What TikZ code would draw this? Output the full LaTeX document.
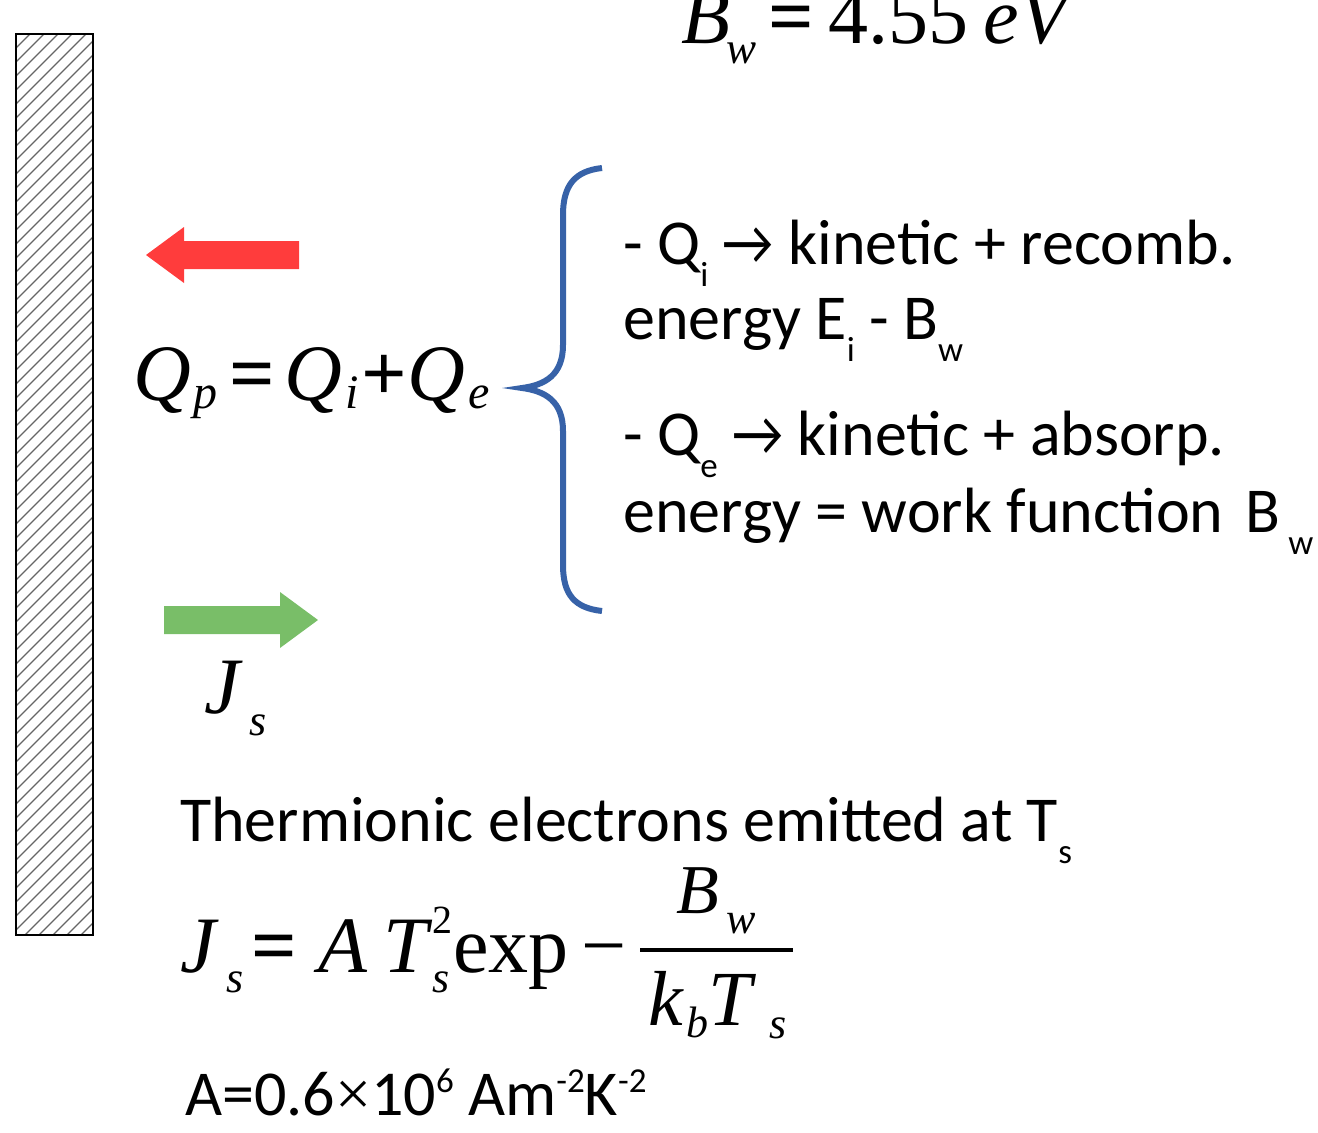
\documentclass[tikz,border=0pt]{standalone}
\usepackage{fontspec}
\setmainfont{Carlito}
\newfontfamily\mfont{Liberation Serif}
\definecolor{arrred}{RGB}{255,60,60}
\definecolor{arrgreen}{RGB}{121,190,104}
\definecolor{braceblue}{RGB}{55,98,168}
\newcommand{\sbs}[1]{\raisebox{-22pt}{\fontsize{35}{35}\selectfont #1}}
\newcommand{\sps}[1]{\raisebox{23pt}{\fontsize{35}{35}\selectfont #1}}
\newcommand{\arr}{\scalebox{0.88}[1]{→}}
\newcommand{\mI}[1]{{\mfont\itshape #1}}
\newcommand{\mR}[1]{{\mfont #1}}
\newcommand{\mB}[1]{{\mfont\bfseries #1}}
\newcommand{\msub}[3]{\raisebox{#1}{\fontsize{#2}{#2}\selectfont\mfont\itshape #3}}
\begin{document}
\begin{tikzpicture}[x=1pt,y=-1pt,
  txt/.style={font=\fontsize{64}{78}\selectfont, inner sep=0pt, anchor=base west},
  mth/.style={font=\fontsize{80}{96}\selectfont, inner sep=0pt, anchor=base west},
  hatch/.style={draw=black!60, line width=1.3pt}]
\useasboundingbox (0,0) rectangle (1318,1133);
% wall
\begin{scope}
\clip (16,34) rectangle (93,935);
\foreach \k in {0,...,75} \draw[hatch] (16,34+\k*14) -- ++(90,-90);
\end{scope}
\draw[black, line width=1.2pt] (16,34) rectangle (93,935);
% arrows
\fill[arrred] (146,255) -- (184,227) -- (184,241) -- (299,241) -- (299,269) -- (184,269) -- (184,283) -- cycle;
\fill[arrgreen] (318,620) -- (280,592) -- (280,606) -- (164,606) -- (164,634) -- (280,634) -- (280,648) -- cycle;
% brace
\draw[braceblue, line width=6pt] (602,168) .. controls (575,171) and (563,185) .. (563,215) -- (563,345) .. controls (563,375) and (545,385) .. (522,388) .. controls (545,391) and (563,401) .. (563,431) -- (563,565) .. controls (563,595) and (575,608) .. (602,611);
% math
\node[mth] (bw) at (681,43) {\mI{B}\hspace{-4pt}\msub{-20pt}{45}{w}\hspace{12pt}\mB{=}\hspace{15pt}\mR{4.55}\hspace{15pt}\mI{eV}};
\node[mth] (qp) at (133,400) {\mI{Q}\hspace{3pt}\msub{-8pt}{48}{p}\hspace{12pt}\mB{=}\hspace{9pt}\mI{Q}\hspace{3pt}\msub{-8pt}{48}{i}\hspace{3pt}\mB{+}\mI{Q}\hspace{3pt}\msub{-8pt}{48}{e}};
\node[mth] (js) at (204,713) {\mI{J}\hspace{10pt}\msub{-22pt}{44}{s}};
\node[mth] (jsf) at (180,972) {\mI{J}\hspace{10.5pt}\msub{-20pt}{44}{s}\hspace{8pt}\mB{=}\hspace{22pt}\mI{A}\hspace{16pt}\mI{T}\hspace{4pt}\rlap{\raisebox{39pt}{\fontsize{40}{40}\selectfont\mfont 2}}\msub{-20pt}{44}{s}\hspace{4pt}\mR{exp}\hspace{13pt}\mR{−}};
\node[mth, font=\fontsize{70}{84}\selectfont] (num) at (676,913) {\mI{B}\hspace{8pt}\msub{-20pt}{44}{w}};
\node[mth, font=\fontsize{78}{92}\selectfont] (den) at (648,1025) {\mI{k}\hspace{3.5pt}\msub{-12pt}{44}{b}\mI{T}\hspace{18pt}\msub{-13pt}{44}{s}};
\coordinate (fl) at (640,950);
\coordinate (fr) at (793,950);
\draw[line width=4.5pt] (fl) -- (fr);
% text
\node[txt] (l1) at (623,264) {- Q\sbs{i} \arr{} kinetic + recomb.};
\node[txt] (l2) at (623,339) {energy E\sbs{i} - B\sbs{w}};
\node[txt] (l3) at (623,455) {- Q\sbs{e} \arr{} kinetic + absorp.};
\node[txt] (l4) at (623,532) {energy = work function\hspace{22pt}B\hspace{8pt}\sbs{w}};
\node[txt] (l5) at (180,841) {Thermionic electrons emitted at T\sbs{s}};
\node[txt] (l6) at (185,1115) {A=0.6{\mfont ×}10\sps{6} Am\sps{-2}K\sps{-2}};
\end{tikzpicture}
\end{document}
